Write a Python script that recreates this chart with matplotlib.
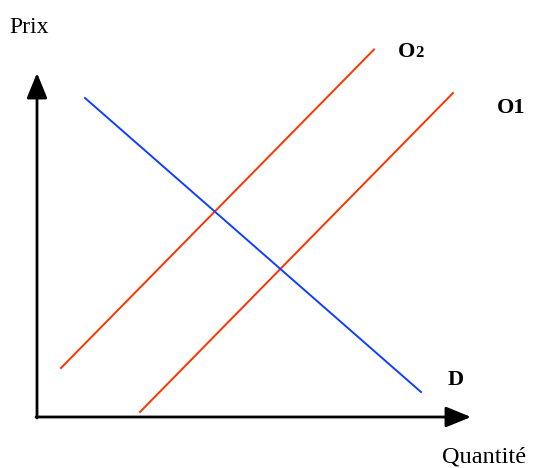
import matplotlib
matplotlib.use('Agg')
import matplotlib.pyplot as plt

# coordonnées en pixels de l'image d'origine (origine des axes en 37, 417)
o2_x = [61, 374]
o2_y = [368, 49.5]
o1_x = [140, 453]
o1_y = [412, 93]
d_x = [85, 421]
d_y = [98, 392]

axe_origine = (37, 417)
axe_x_fin = 471
axe_y_fin = 73

fig = plt.figure(figsize=(5.33, 4.68), dpi=100)
ax = fig.add_axes([0, 0, 1, 1])
ax.set_xlim(0, 533)
ax.set_ylim(468, 0)
ax.axis('off')

rouge = '#ff3300'
bleu = '#1040ff'

ax.plot(o2_x, o2_y, color=rouge, linewidth=1.4)
ax.plot(o1_x, o1_y, color=rouge, linewidth=1.4)
ax.plot(d_x, d_y, color=bleu, linewidth=1.4)

# axes avec flèches
fleche = dict(arrowstyle='-|>,head_length=1.1,head_width=0.45', color='black',
              linewidth=2, shrinkA=0, shrinkB=0, mutation_scale=14)
ax.annotate('', xy=(axe_origine[0], axe_y_fin), xytext=(axe_origine[0], axe_origine[1] + 1),
            arrowprops=fleche)
ax.annotate('', xy=(axe_x_fin, axe_origine[1]), xytext=(axe_origine[0] - 1, axe_origine[1]),
            arrowprops=fleche)

police = 'Liberation Serif'
ax.text(9, 33, 'Prix', fontsize=17, family=police, va='baseline', ha='left')
ax.text(442, 462, 'Quantité', fontsize=17.5, family=police, va='baseline', ha='left')
ax.text(398, 57, 'O', fontsize=16, family=police, weight='bold', va='baseline', ha='left')
ax.text(415, 57, '2', fontsize=12, family=police, weight='bold', va='baseline', ha='left')
ax.text(497, 113, 'O1', fontsize=16, family=police, weight='bold', va='baseline', ha='left')
ax.text(448, 385, 'D', fontsize=16, family=police, weight='bold', va='baseline', ha='left')

fig.savefig('out.png', dpi=100)
